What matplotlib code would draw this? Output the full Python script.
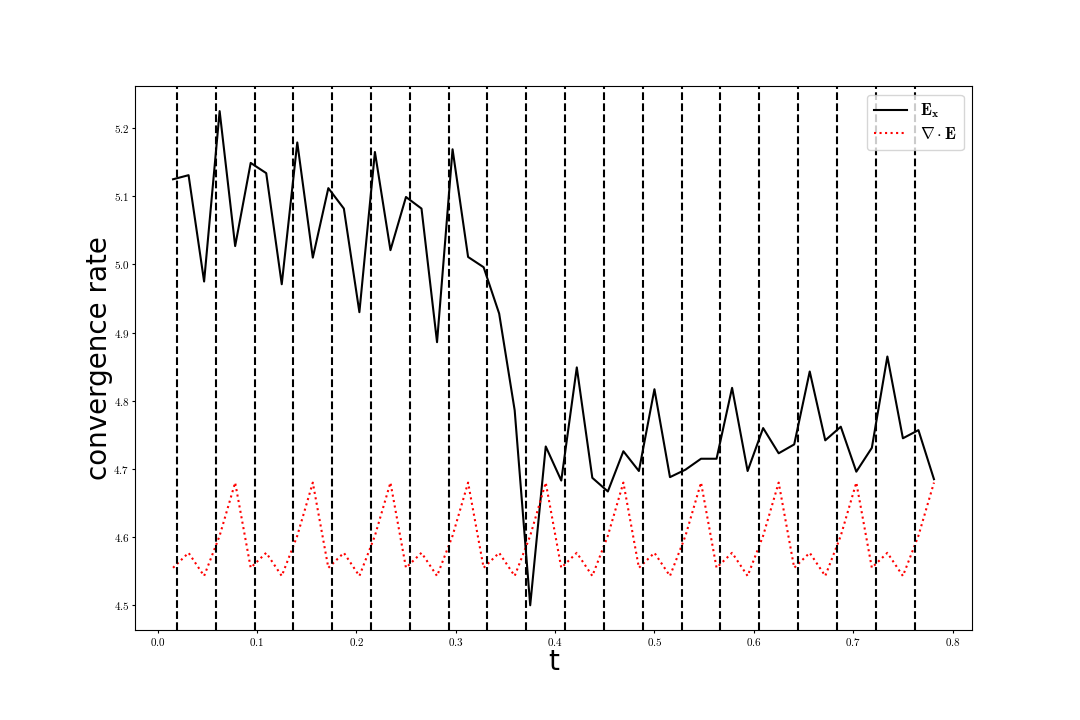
import numpy as np
import matplotlib
matplotlib.use("Agg")
import matplotlib.pyplot as plt
from matplotlib.ticker import FuncFormatter

plt.rcParams['mathtext.fontset'] = 'cm'

# time grid (step 1/64)
t = np.arange(1, 51) / 64.0

# convergence rate of E_x
rate_ex = [5.125, 5.131, 4.975, 5.225, 5.027, 5.149, 5.134, 4.971, 5.179, 5.010,
           5.112, 5.082, 4.930, 5.165, 5.021, 5.099, 5.082, 4.886, 5.169, 5.011,
           4.996, 4.928, 4.786, 4.500, 4.733, 4.683, 4.849, 4.687, 4.667, 4.726,
           4.697, 4.817, 4.688, 4.699, 4.715, 4.715, 4.819, 4.697, 4.760, 4.723,
           4.736, 4.843, 4.742, 4.762, 4.696, 4.731, 4.865, 4.745, 4.757, 4.685]

# convergence rate of div E
rate_div = [4.555, 4.577, 4.543, 4.602, 4.680, 4.555, 4.577, 4.543, 4.602, 4.680,
            4.555, 4.577, 4.543, 4.602, 4.680, 4.555, 4.577, 4.543, 4.602, 4.680,
            4.555, 4.577, 4.543, 4.602, 4.680, 4.555, 4.577, 4.543, 4.602, 4.680,
            4.555, 4.577, 4.543, 4.602, 4.680, 4.555, 4.577, 4.543, 4.602, 4.680,
            4.555, 4.577, 4.543, 4.602, 4.680, 4.555, 4.577, 4.543, 4.602, 4.680]

# vertical marker times
v_times = [0.0195, 0.0586, 0.0977, 0.1367, 0.1758, 0.2148, 0.2539, 0.2930,
           0.3320, 0.3711, 0.4102, 0.4492, 0.4883, 0.5273, 0.5664, 0.6055,
           0.6445, 0.6836, 0.7227, 0.7617]

fig, ax = plt.subplots(figsize=(10.8, 7.2), dpi=100)
fig.subplots_adjust(left=0.125, right=0.9, top=0.88, bottom=0.125)

ax.plot(t, rate_ex, 'k-', lw=1.5, label=r'$\mathbf{E_x}$')
ax.plot(t, rate_div, 'r:', lw=1.5, label=r'$\nabla\cdot\mathbf{E}$')
for vt in v_times:
    ax.axvline(vt, color='k', linestyle='--', lw=1.5)

ax.set_xlabel('t', fontsize=20, labelpad=0)
ax.set_ylabel('convergence rate', fontsize=20, labelpad=0)

fmt = FuncFormatter(lambda v, p: f'${v:.1f}$')
ax.xaxis.set_major_formatter(fmt)
ax.yaxis.set_major_formatter(fmt)
ax.tick_params(labelsize=8, length=2, pad=2)

ax.legend(loc='upper right', fontsize=12, labelspacing=0.3)

fig.savefig('out.png', dpi=100)
